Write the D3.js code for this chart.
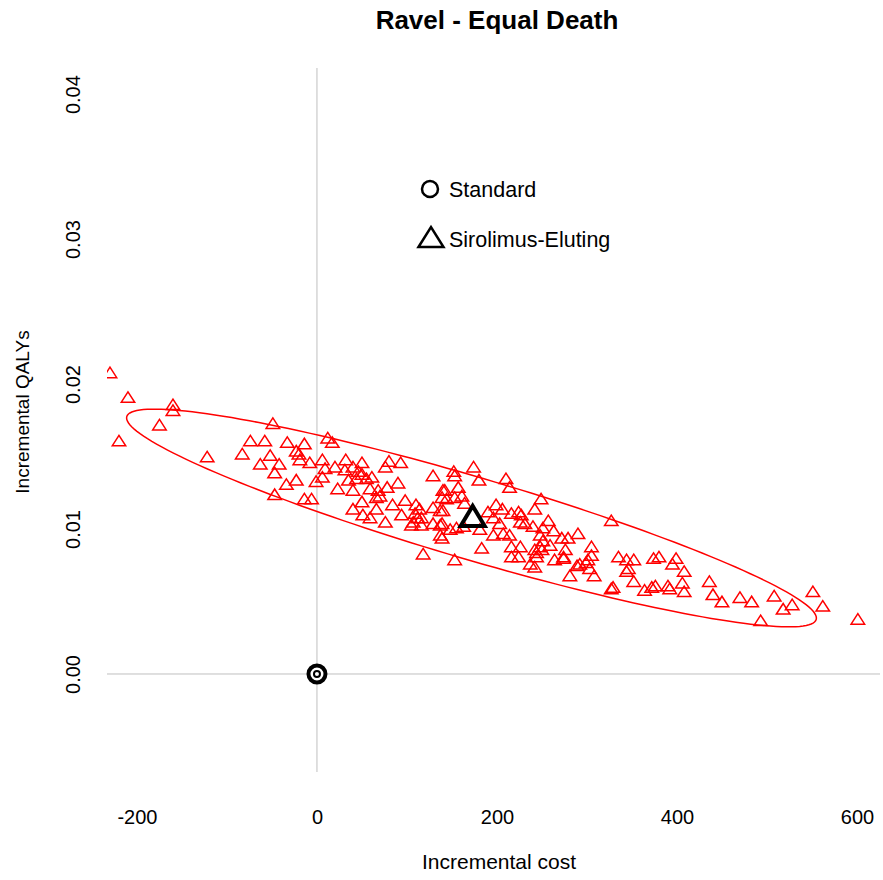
<!DOCTYPE html>
<html>
<head>
<meta charset="utf-8">
<script src="https://cdn.jsdelivr.net/npm/d3@7"></script>
<style>
  body { margin: 0; background: #fff; }
  text { font-family: "Liberation Sans", Arial, sans-serif; fill: #000; }
</style>
</head>
<body>
<div id="scatter"></div>
<script>
// simulated results (incremental cost, incremental QALYs)
const simCost = [
  -230, -210, -160, -160, -175, -220, -122, -49, -74, -58, -33, -14, -83, -52, -63, -42,
  -47, -23, -34, -47, -20, -23, -19, -8, -14, -6, -1, 6, 6, 12, 17, 32,
  20, 31, 40, 46, 50, 50, 80, 93, 76, 35, 44, 55, 61, 23, 40, 59,
  68, 78, 90, 70, 66, 50, 40, 66, 84, 98, 51, 59, 76, 94, 110, 114,
  107, 112, 116, 109, 129, 129, 137, 139, 140, 129, 137, 137, 139, 118, 9, 116,
  105, 152, 153, 174, 180, 210, 214, 142, 157, 161, 153, 144, 164, 140, 249, 242,
  327, 199, 206, 190, 196, 216, 224, 227, 226, 231, 203, 155, 163, 148, 139, 181,
  240, 257, 251, 263, 196, 207, 214, 248, 251, 272, 279, 290, 183, 216, 226, 259,
  248, 305, 276, 216, 224, 242, 244, 153, 264, 274, 237, 242, 289, 292, 301, 305,
  335, 344, 352, 374, 346, 281, 308, 344, 352, 329, 327, 364, 372, 303, 299, 244,
  250, 274, 380, 399, 395, 408, 376, 390, 392, 406, 408, 436, 440, 450, 470, 483,
  508, 518, 528, 493, 551, 562, 601
];
const simQaly = [
  0.0208, 0.0191, 0.0186, 0.0182, 0.0172, 0.0161, 0.0150, 0.0173, 0.0161, 0.0161, 0.0160, 0.0159, 0.0152, 0.0151, 0.0145, 0.0145,
  0.0139, 0.0134, 0.0131, 0.0124, 0.0152, 0.0154, 0.0148, 0.0146, 0.0121, 0.0121, 0.0133, 0.0136, 0.0148, 0.0163, 0.0160, 0.0148,
  0.0143, 0.0141, 0.0143, 0.0140, 0.0146, 0.0138, 0.0147, 0.0146, 0.0143, 0.0134, 0.0135, 0.0135, 0.0136, 0.0128, 0.0127, 0.0128,
  0.0127, 0.0129, 0.0132, 0.0123, 0.0122, 0.0119, 0.0114, 0.0114, 0.0117, 0.0120, 0.0110, 0.0108, 0.0105, 0.0110, 0.0117, 0.0114,
  0.0105, 0.0108, 0.0108, 0.0111, 0.0115, 0.0137, 0.0113, 0.0122, 0.0127, 0.0104, 0.0103, 0.0096, 0.0094, 0.0083, 0.0142, 0.0103,
  0.0103, 0.0140, 0.0137, 0.0143, 0.0134, 0.0135, 0.0129, 0.0127, 0.0129, 0.0123, 0.0122, 0.0121, 0.0118, 0.0113, 0.0121, 0.0114,
  0.0106, 0.0117, 0.0114, 0.0112, 0.0108, 0.0111, 0.0112, 0.0110, 0.0105, 0.0104, 0.0104, 0.0101, 0.0102, 0.0100, 0.0104, 0.0100,
  0.0102, 0.0106, 0.0101, 0.0099, 0.0096, 0.0097, 0.0096, 0.0096, 0.0092, 0.0094, 0.0094, 0.0097, 0.0087, 0.0088, 0.0088, 0.0089,
  0.0088, 0.0088, 0.0086, 0.0081, 0.0081, 0.0086, 0.0081, 0.0079, 0.0079, 0.0080, 0.0076, 0.0074, 0.0075, 0.0076, 0.0079, 0.0082,
  0.0081, 0.0079, 0.0079, 0.0080, 0.0073, 0.0068, 0.0068, 0.0071, 0.0064, 0.0060, 0.0059, 0.0058, 0.0060, 0.0073, 0.0077, 0.0084,
  0.0086, 0.0081, 0.0081, 0.0080, 0.0076, 0.0071, 0.0061, 0.0061, 0.0059, 0.0063, 0.0057, 0.0064, 0.0055, 0.0050, 0.0053, 0.0050,
  0.0054, 0.0045, 0.0048, 0.0037, 0.0057, 0.0047, 0.0038
];

// the two strategies
const standardPoint = [0, 0];
const meanPoint = [173, 0.0109];
const legendLabels = ["Standard", "Sirolimus-Eluting"];

// confidence ellipse: centre and the two half-axis vectors, in data units
const ellipseCenter = [171.7, 0.01076];
const ellipseMajor = [383.0, -0.00700];
const ellipseMinor = [-13.0, -0.00272];

const xTicks = [-200, 0, 200, 400, 600];
const yTicks = [0, 0.01, 0.02, 0.03, 0.04];

const W = 883, H = 880;
const plot = {left: 107, right: 880, top: 68, bottom: 772};

const svg = d3.select("#scatter")
  .append("svg")
    .attr("width", W)
    .attr("height", H);

const x = d3.scaleLinear()
  .domain([-233.3, 625.6])
  .range([plot.left, plot.right]);

const y = d3.scaleLinear()
  .domain([-0.00676, 0.0418])
  .range([plot.bottom, plot.top]);

// zero lines
svg.append("line")
  .attr("x1", plot.left).attr("x2", plot.right)
  .attr("y1", y(0)).attr("y2", y(0))
  .attr("stroke", "#bfbfbf").attr("stroke-width", 1);
svg.append("line")
  .attr("x1", x(0)).attr("x2", x(0))
  .attr("y1", plot.top).attr("y2", plot.bottom)
  .attr("stroke", "#bfbfbf").attr("stroke-width", 1);

// X axis labels (plain hyphen for negatives)
const xAxis = svg.append("g")
  .attr("transform", "translate(0, 810)")
  .call(d3.axisBottom(x).tickValues(xTicks).tickSize(0).tickPadding(0).tickFormat(function(d) { return String(d); }));
xAxis.select(".domain").remove();
xAxis.selectAll("text").style("font-size", "20px").attr("font-family", null);

// Y axis labels (rotated)
const yAxis = svg.append("g")
  .attr("transform", "translate(73, 0)")
  .call(d3.axisLeft(y).tickValues(yTicks).tickSize(0).tickPadding(0).tickFormat(d3.format(".2f")));
yAxis.select(".domain").remove();
yAxis.selectAll("text")
  .attr("x", 0)
  .attr("dy", "0.36em")
  .attr("text-anchor", "middle")
  .attr("transform", "rotate(-90)")
  .attr("font-family", null)
  .style("font-size", "20px");

// titles
svg.append("text")
  .attr("x", 497).attr("y", 29)
  .attr("text-anchor", "middle")
  .style("font-size", "26px").style("font-weight", "bold")
  .text("Ravel - Equal Death");

svg.append("text")
  .attr("x", 499).attr("y", 869)
  .attr("text-anchor", "middle")
  .style("font-size", "21px")
  .text("Incremental cost");

svg.append("text")
  .attr("transform", "translate(29, 412) rotate(-90)")
  .attr("text-anchor", "middle")
  .style("font-size", "19px")
  .text("Incremental QALYs");

// clip to the plot area
svg.append("clipPath").attr("id", "plotclip")
  .append("rect")
    .attr("x", plot.left).attr("y", plot.top)
    .attr("width", plot.right - plot.left).attr("height", plot.bottom - plot.top);

const chart = svg.append("g").attr("clip-path", "url(#plotclip)");

// triangle path centred on a point
function tri(cx, cy, w, h) {
  return `M${cx - w / 2},${cy + h / 2}L${cx},${cy - h / 2}L${cx + w / 2},${cy + h / 2}Z`;
}

// ellipse
const angles = d3.range(0, 2 * Math.PI, Math.PI / 90);
chart.append("path")
  .datum(angles)
  .attr("fill", "none")
  .attr("stroke", "#ff0000")
  .attr("stroke-width", 1.5)
  .attr("d", d3.line()
    .x(function(t) { return x(ellipseCenter[0] + Math.cos(t) * ellipseMajor[0] + Math.sin(t) * ellipseMinor[0]); })
    .y(function(t) { return y(ellipseCenter[1] + Math.cos(t) * ellipseMajor[1] + Math.sin(t) * ellipseMinor[1]); })
    .curve(d3.curveLinearClosed));

// simulation triangles
chart.selectAll(".sim")
  .data(d3.range(simCost.length))
  .join("path")
    .attr("class", "sim")
    .attr("fill", "none")
    .attr("stroke", "#ff0000")
    .attr("stroke-width", 1.5)
    .attr("d", function(i) { return tri(x(simCost[i]), y(simQaly[i]), 13.5, 10.5); });

// mean of sirolimus-eluting
chart.append("path")
  .attr("fill", "none")
  .attr("stroke", "#000")
  .attr("stroke-width", 4)
  .attr("d", tri(x(meanPoint[0]), y(meanPoint[1]), 24, 20));

// standard at origin
chart.append("circle")
  .attr("cx", x(standardPoint[0])).attr("cy", y(standardPoint[1]))
  .attr("r", 8.5)
  .attr("fill", "#fff").attr("stroke", "#000").attr("stroke-width", 4);
chart.append("circle")
  .attr("cx", x(standardPoint[0])).attr("cy", y(standardPoint[1]))
  .attr("r", 3)
  .attr("fill", "#fff").attr("stroke", "#000").attr("stroke-width", 2);

// legend
const legend = svg.append("g");
legend.append("circle")
  .attr("cx", 430).attr("cy", 189)
  .attr("r", 8)
  .attr("fill", "none").attr("stroke", "#000").attr("stroke-width", 2.5);
legend.append("path")
  .attr("fill", "none").attr("stroke", "#000").attr("stroke-width", 2.5)
  .attr("d", tri(431, 237, 25, 20));
legend.selectAll(".lbl")
  .data(legendLabels)
  .join("text")
    .attr("class", "lbl")
    .attr("x", 449)
    .attr("y", function(d, i) { return 197 + i * 50; })
    .style("font-size", "21.5px")
    .text(function(d) { return d; });
</script>
</body>
</html>
